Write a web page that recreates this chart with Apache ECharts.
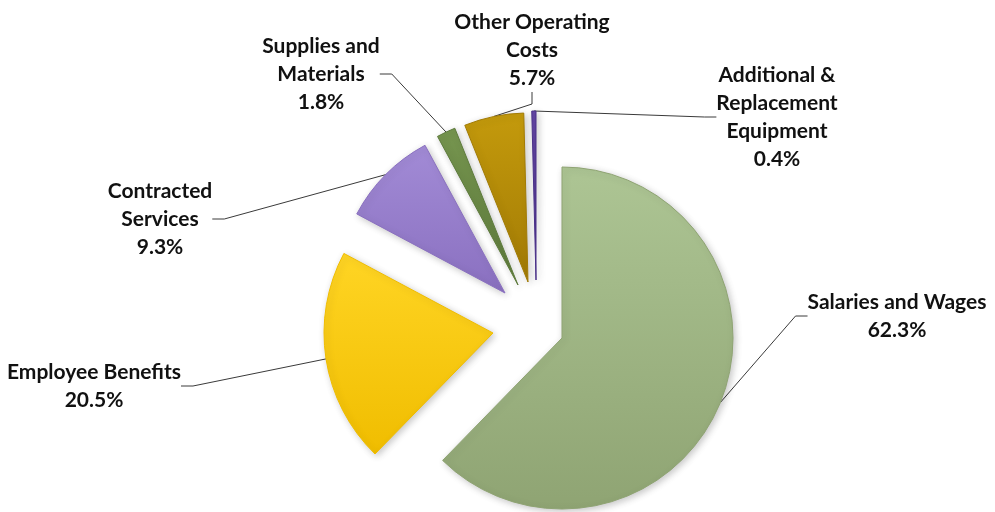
<!DOCTYPE html>
<html>
<head>
<meta charset="utf-8">
<script src="https://cdn.jsdelivr.net/npm/echarts@6/dist/echarts.min.js"></script>
<style>
    html, body { margin: 0; padding: 0; background: #fff; }
    #chart { width: 995px; height: 512px; }
</style>
</head>
<body>
<div id="chart"></div>
<script>

// chart data
const names = ['Salaries and Wages', 'Employee Benefits', 'Contracted Services',
    'Supplies and Materials', 'Other Operating Costs', 'Additional & Replacement Equipment'];
const labelText = ['Salaries and Wages', 'Employee Benefits', 'Contracted\nServices',
    'Supplies and\nMaterials', 'Other Operating\nCosts', 'Additional &\nReplacement\nEquipment'];
const values = [62.3, 20.5, 9.3, 1.8, 5.7, 0.4];

// look of each slice (top, bottom of gradient)
const colorTop = ['#adc594', '#ffd524', '#a28bd6', '#76954f', '#c49a0c', '#6446a6'];
const colorBottom = ['#8fa473', '#f0bd00', '#8a70c0', '#5e7b3c', '#a27b05', '#4a3188'];

// exploded slices: each vertex sits at its own spot
const centers = [[562, 338], [493, 333], [505, 293], [518, 285], [528, 282], [536, 280]];
const radius = [171, 169, 168, 169, 169, 169];
const labelPos = [[897, 316], [94, 386], [160, 219], [321, 74], [532, 50], [777, 117]];

const chart = echarts.init(document.getElementById('chart'));

let series = [];

for (let i = 0; i < values.length; i++) {

    let data = [];

    for (let j = 0; j < values.length; j++) {

        if (j === i) {
            data.push({
                name: names[j],
                value: values[j],
                itemStyle: {
                    color: new echarts.graphic.LinearGradient(0, 0, 0, 1, [
                        { offset: 0, color: colorTop[j] },
                        { offset: 1, color: colorBottom[j] }
                    ]),
                    borderColor: colorBottom[j],
                    borderWidth: 1,
                    shadowColor: 'rgba(0,0,0,0.22)',
                    shadowBlur: 7,
                    shadowOffsetX: 2,
                    shadowOffsetY: 2
                },
                label: { show: true },
                labelLine: { show: true }
            });
        } else {
            data.push({
                name: names[j],
                value: values[j],
                itemStyle: { color: 'rgba(0,0,0,0)', borderWidth: 0 },
                label: { show: false },
                labelLine: { show: false }
            });
        }
    }

    series.push({
        type: 'pie',
        center: centers[i],
        radius: [0, radius[i]],
        startAngle: 90,
        clockwise: true,
        minAngle: 0,
        avoidLabelOverlap: false,
        animation: false,
        silent: true,
        label: {
            position: 'outside',
            formatter: function (p) {
                return labelText[p.dataIndex] + '\n' + values[p.dataIndex].toFixed(1) + '%';
            },
            fontFamily: 'Lato',
            fontWeight: 'bold',
            fontSize: 21,
            lineHeight: 28,
            color: '#111111',
            align: 'center'
        },
        labelLine: {
            length: 20,
            length2: 12,
            lineStyle: { color: '#3a3a3a', width: 1 }
        },
        labelLayout: function () {
            return {
                x: labelPos[i][0],
                y: labelPos[i][1],
                align: 'center',
                verticalAlign: 'middle'
            };
        },
        data: data
    });
}

chart.setOption({
    backgroundColor: '#ffffff',
    series: series
});

</script>
</body>
</html>
